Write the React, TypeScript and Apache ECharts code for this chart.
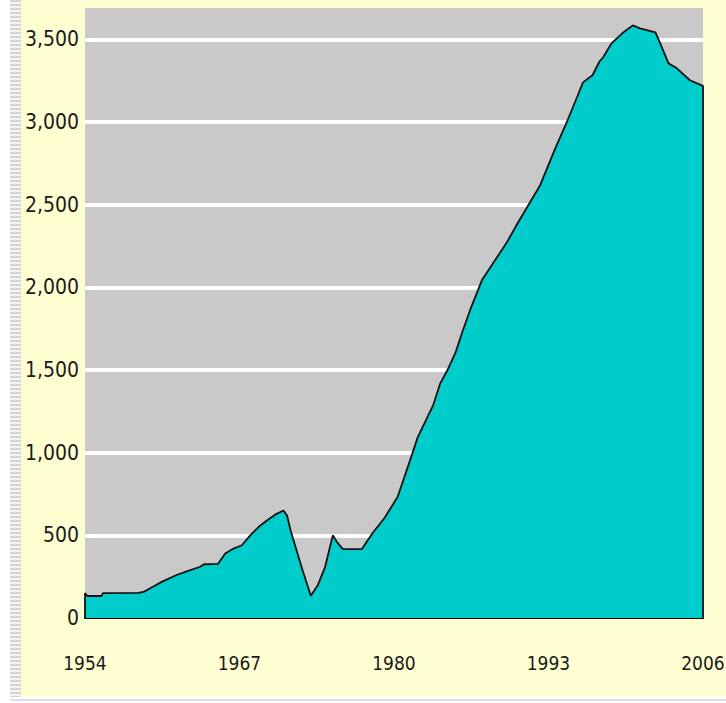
import React, { useEffect, useRef } from "react";
import * as echarts from "echarts";

const years: number[] = [
  1954, 1954, 1954.2, 1955.4, 1955.5, 1958.5, 1959.0, 1959.6, 1960.5, 1961.7,
  1962.5, 1963.7, 1964.0, 1965.2, 1965.8, 1966.5, 1967.2, 1967.9, 1968.6, 1969.3,
  1970.0, 1970.7, 1971.0, 1971.3, 1972.3, 1973.0, 1973.6, 1974.2, 1974.85, 1975.2,
  1975.7, 1977.3, 1978.2, 1979.2, 1980.3, 1981.3, 1982.0, 1983.3, 1983.9, 1984.5,
  1985.2, 1985.8, 1986.4, 1987.4, 1988.5, 1989.5, 1990.4, 1991.4, 1992.3, 1993.5,
  1994.5, 1995.4, 1995.9, 1996.7, 1997.3, 1997.6, 1998.3, 1999.2, 2000.1, 2000.7,
  2002.0, 2002.4, 2003.1, 2003.8, 2004.9, 2005.9, 2006, 2006,
];

const values: number[] = [
  0, 150, 133, 133, 150, 152, 160, 185, 220, 260,
  280, 310, 325, 328, 390, 420, 440, 500, 550, 590,
  625, 650, 620, 530, 290, 135, 200, 308, 500, 460,
  417, 417, 514, 605, 732, 943, 1094, 1288, 1421, 1500,
  1610, 1741, 1862, 2044, 2164, 2273, 2388, 2509, 2618, 2829,
  2993, 3150, 3240, 3283, 3368, 3392, 3476, 3537, 3585, 3567,
  3543, 3476, 3355, 3325, 3253, 3222, 3220, 0,
];

const xStart = 1954;
const xEnd = 2006;
const xStep = 13;
const yMax = 3690;
const yStep = 500;

const FONT = "'DejaVu Sans Condensed', 'Liberation Sans Narrow', sans-serif";

export default function App() {
  const ref = useRef<HTMLDivElement>(null);

  useEffect(() => {
    if (!ref.current) return;
    const chart = echarts.init(ref.current, null, { renderer: "svg" });
    const data = years.map((y, i) => [y, values[i]]);
    chart.setOption({
      animation: false,
      backgroundColor: "transparent",
      grid: {
        left: 85,
        right: 23,
        top: 8,
        bottom: 85,
        show: true,
        backgroundColor: "#C9C9C9",
        borderWidth: 0,
        containLabel: false,
        outerBoundsMode: "none",
      },
      xAxis: {
        type: "value",
        min: xStart,
        max: xEnd,
        interval: xStep,
        axisLine: { show: true, lineStyle: { color: "#000", width: 2 } },
        axisTick: { show: false },
        splitLine: { show: false },
        axisLabel: {
          margin: 35,
          color: "#1a1a1a",
          fontFamily: FONT,
          fontSize: 19,
          hideOverlap: false,
          formatter: (v: number) => String(v),
        },
      },
      yAxis: {
        type: "value",
        min: 0,
        max: yMax,
        interval: yStep,
        axisLine: { show: false },
        axisTick: { show: false },
        splitLine: {
          show: true,
          showMinLine: false,
          showMaxLine: false,
          lineStyle: { color: "#ffffff", width: 4 },
        },
        axisLabel: {
          margin: 6,
          color: "#1a1a1a",
          fontFamily: FONT,
          fontSize: 21,
          showMaxLabel: false,
          formatter: (v: number) => (v > yStep * 7 ? "" : v.toLocaleString("en-US")),
        },
      },
      series: [
        {
          type: "line",
          data,
          symbol: "none",
          clip: false,
          lineStyle: { color: "#111111", width: 1.8 },
          areaStyle: { color: "#00CCCC", opacity: 1 },
        },
      ],
    });
    return () => chart.dispose();
  }, []);

  return (
    <div
      style={{
        position: "absolute",
        left: 0,
        top: 0,
        width: 726,
        height: 703,
        background: "#ffffff",
        overflow: "hidden",
      }}
    >
      <div
        style={{
          position: "absolute",
          left: 10,
          top: 0,
          width: 11,
          height: 697,
          background:
            "repeating-linear-gradient(to bottom, #d4d4d4 0px, #d4d4d4 2px, #f4f4f4 2px, #f4f4f4 4px)",
        }}
      />
      <div
        style={{
          position: "absolute",
          left: 21,
          top: 0,
          width: 705,
          height: 697,
          background: "#FFFFD2",
        }}
      />
      <div
        style={{
          position: "absolute",
          left: 10,
          top: 699,
          width: 716,
          height: 2,
          background: "#dedede",
        }}
      />
      <div
        ref={ref}
        style={{ position: "absolute", left: 0, top: 0, width: 726, height: 703 }}
      />
    </div>
  );
}
